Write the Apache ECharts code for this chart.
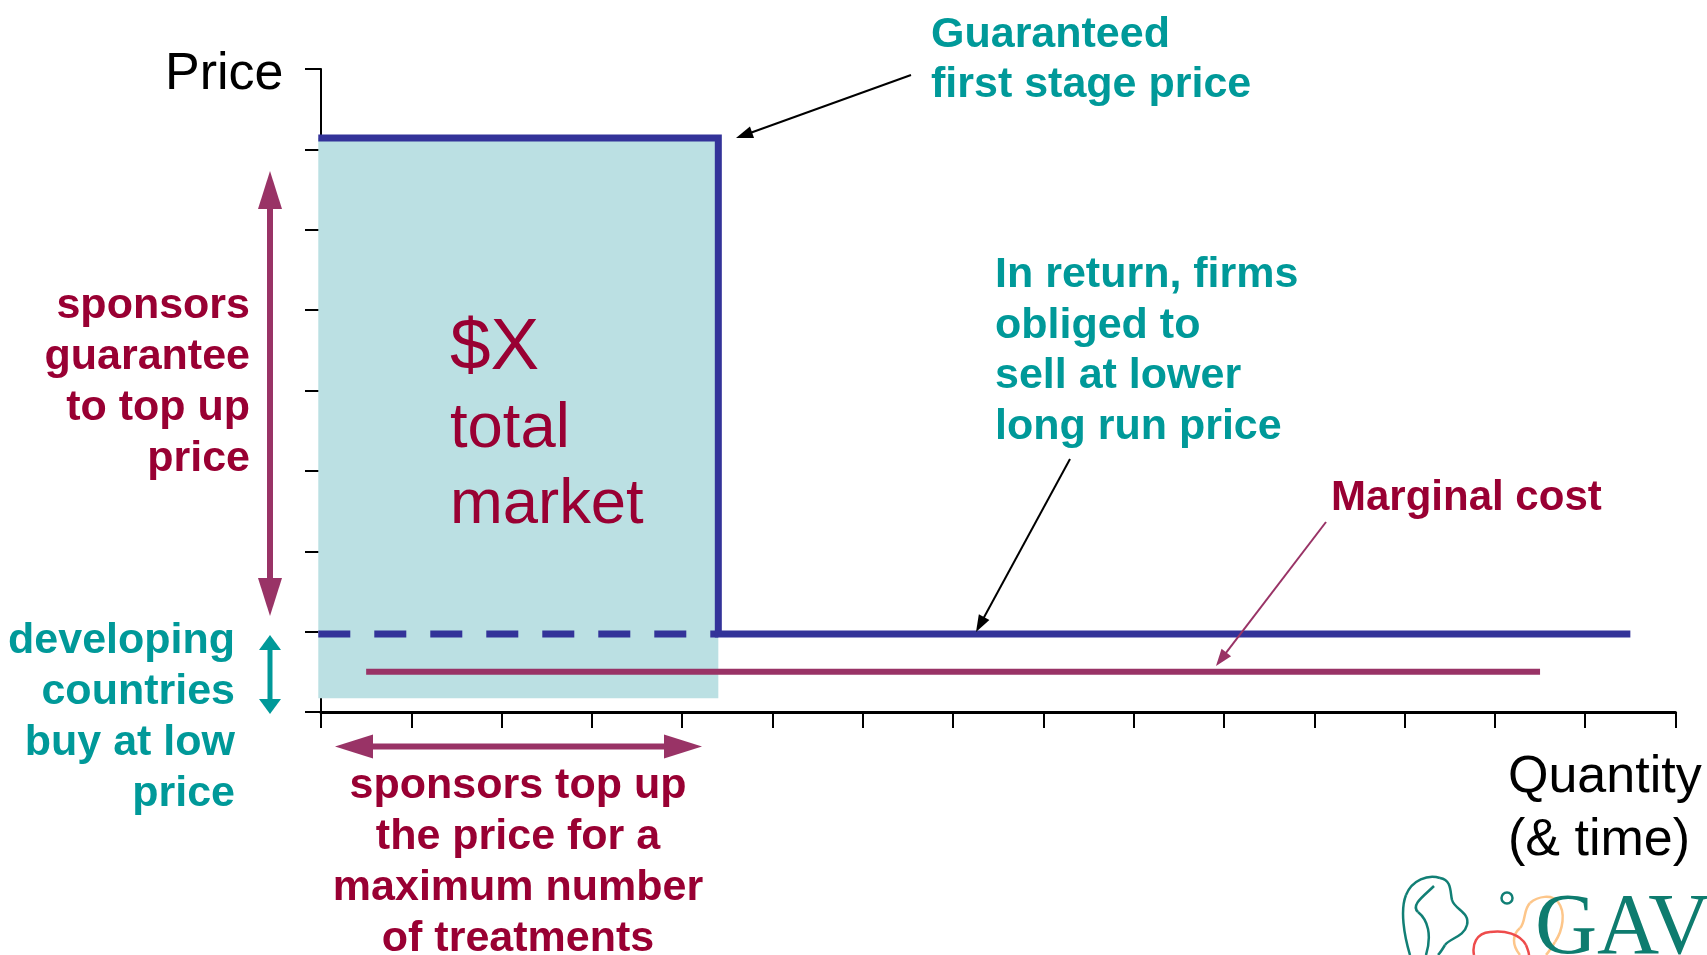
<!DOCTYPE html>
<html>
<head>
<meta charset="utf-8">
<script src="https://cdn.jsdelivr.net/npm/echarts@6/dist/echarts.min.js"></script>
<style>
html,body{margin:0;padding:0;background:#fff;}
#main{width:1707px;height:955px;}
</style>
</head>
<body>
<div id="main"></div>
<script>
// ---- Data (axis units: x = quantity ticks 0..15, y = price ticks 0..8) ----
const xTicks = [0, 15, 1];          // min, max, interval
const yTicks = [0, 8, 1];
const guaranteedPrice = 7.14;
const longRunPrice = 0.97;
const stageEnd = 4.4;
const longRunEnd = 14.5;
const marginalCost = 0.5;
const mcRange = [0.5, 13.5];
const shadedBox = [[-0.03, 0.17, 4.4, 7.14]];   // x0, y0, x1, y1
const firstStageLine = [[-0.03, guaranteedPrice], [stageEnd, guaranteedPrice], [stageEnd, longRunPrice], [longRunEnd, longRunPrice]];
const dashedLine = [[-0.03, longRunPrice], [stageEnd, longRunPrice]];
const mcLine = [[mcRange[0], marginalCost], [mcRange[1], marginalCost]];

const TEAL = '#009999', MAROON = '#990033', MAROON2 = '#993366', BLUE = '#333399', SHADE = '#BBE0E3';
const SANS = '"Liberation Sans", Arial, Helvetica, sans-serif';

function txt(text, x, baseline, F, L, color, weight, align) {
  return {
    type: 'text', x: x, y: baseline + 3 - L / 2 - 0.3465 * F, z: 100,
    style: { text: text, fill: color, fontSize: F, fontFamily: SANS, fontWeight: weight || 'normal',
      lineHeight: L, align: align || 'left', verticalAlign: 'top' }
  };
}
function arrowHead(tx, ty, fx, fy, len, hw, color) {
  const dx = tx - fx, dy = ty - fy, d = Math.hypot(dx, dy), ux = dx / d, uy = dy / d;
  const bx = tx - ux * len, by = ty - uy * len;
  return { type: 'polygon', z: 90, shape: { points: [[tx, ty], [bx - uy * hw, by + ux * hw], [bx + uy * hw, by - ux * hw]] }, style: { fill: color } };
}
function thinArrow(fx, fy, tx, ty, color, w) {
  const dx = tx - fx, dy = ty - fy, d = Math.hypot(dx, dy);
  const ex = tx - dx / d * 12, ey = ty - dy / d * 12;
  return [
    { type: 'line', z: 90, shape: { x1: fx, y1: fy, x2: ex, y2: ey }, style: { stroke: color, lineWidth: w } },
    arrowHead(tx, ty, fx, fy, 17, 6, color)
  ];
}
function doubleArrow(x1, y1, x2, y2, h, hw, s, color) {
  const dx = x2 - x1, dy = y2 - y1, d = Math.hypot(dx, dy), ux = dx / d, uy = dy / d;
  return [
    { type: 'line', z: 90, shape: { x1: x1 + ux * (h - 2), y1: y1 + uy * (h - 2), x2: x2 - ux * (h - 2), y2: y2 - uy * (h - 2) }, style: { stroke: color, lineWidth: s } },
    arrowHead(x1, y1, x2, y2, h, hw, color),
    arrowHead(x2, y2, x1, y1, h, hw, color)
  ];
}
// Build bezierCurve elements from a simple "M x y C ... " path string
function curves(path, color) {
  const n = path.replace(/[MC]/g, ' ').trim().split(/\s+/).map(Number);
  const out = [];
  let x = n[0], y = n[1];
  for (let i = 2; i + 5 < n.length; i += 6) {
    out.push({ type: 'bezierCurve', z: 80, shape: { x1: x, y1: y, cpx1: n[i], cpy1: n[i + 1], cpx2: n[i + 2], cpy2: n[i + 3], x2: n[i + 4], y2: n[i + 5] },
      style: { stroke: color, lineWidth: 2.5, fill: null } });
    x = n[i + 4]; y = n[i + 5];
  }
  return out;
}

const chart = echarts.init(document.getElementById('main'), null, { renderer: 'canvas' });

const graphics = [
  txt('Price', 165, 90, 52, 60, '#000'),
  txt('Guaranteed\nfirst stage price', 931, 47, 43, 50, TEAL, 'bold'),
  txt('In return, firms\nobliged to\nsell at lower\nlong run price', 995, 287, 43, 50.7, TEAL, 'bold'),
  txt('Marginal cost', 1331, 510, 42, 50, MAROON, 'bold'),
  txt('$X', 450, 371, 73, 80, MAROON),
  txt('total\nmarket', 450, 448, 63.4, 76, MAROON),
  txt('sponsors\nguarantee\nto top up\nprice', 250, 318, 43, 51, MAROON, 'bold', 'right'),
  txt('developing\ncountries\nbuy at low\nprice', 235, 653, 43, 51, TEAL, 'bold', 'right'),
  txt('sponsors top up\nthe price for a\nmaximum number\nof treatments', 518, 798, 43, 51, MAROON, 'bold', 'center'),
  txt('Quantity\n(& time)', 1508, 793, 52, 63, '#000'),
  ...thinArrow(911, 75, 736, 138, '#000', 2),
  ...thinArrow(1070, 459, 976, 632, '#000', 2),
  ...thinArrow(1326, 522, 1216, 666, MAROON2, 2),
  ...doubleArrow(270, 171, 270, 616, 38, 12, 6, MAROON2),
  ...doubleArrow(270, 635, 270, 714, 15, 11, 5, TEAL),
  ...doubleArrow(335, 746.5, 702, 746.5, 38, 12, 6, MAROON2),
  // GAVI logo (partial, bottom-right corner)
  ...curves('M1410 955 C1404 935 1400 910 1406 895 C1412 880 1428 874 1440 878 C1452 880 1450 892 1452 900 C1455 910 1470 912 1467 925 C1464 937 1450 938 1445 945 C1442 950 1440 953 1438 955', '#117F75'),
  ...curves('M1434 886 C1425 895 1410 905 1418 912 C1428 920 1432 935 1426 955', '#117F75'),
  { type: 'circle', z: 80, shape: { cx: 1507, cy: 898, r: 5.5 }, style: { stroke: '#117F75', lineWidth: 2.5, fill: null } },
  ...curves('M1520 955 C1512 945 1512 935 1520 928 C1526 922 1523 910 1530 903 C1538 896 1552 894 1558 902 C1566 912 1563 930 1555 942 C1550 950 1548 953 1546 955', '#FDC68A'),
  ...curves('M1474 955 C1472 945 1476 933 1490 932 C1505 930 1520 934 1526 945 C1528 950 1529 953 1529 955', '#EE4B4B'),
  { type: 'text', x: 1535, y: 960 - 0.3465 * 86 - 45, z: 85, style: { text: 'GAVI', fill: '#0E7C6F', fontSize: 86, fontFamily: '"Liberation Serif", "Times New Roman", serif', lineHeight: 90, align: 'left', verticalAlign: 'top' } }
];

chart.setOption({
  animation: false,
  backgroundColor: '#fff',
  grid: { left: 321, top: 69, width: 1354.5, height: 643, containLabel: false },
  xAxis: {
    type: 'value', min: xTicks[0], max: xTicks[1], interval: xTicks[2],
    axisLine: { show: true, onZero: false, lineStyle: { color: '#000', width: 3 } },
    axisTick: { show: true, inside: false, length: 16, lineStyle: { color: '#000', width: 2 } },
    axisLabel: { show: false }, splitLine: { show: false }
  },
  yAxis: {
    type: 'value', min: yTicks[0], max: yTicks[1], interval: yTicks[2],
    axisLine: { show: true, onZero: false, lineStyle: { color: '#000', width: 2 } },
    axisTick: { show: true, inside: false, length: 16, lineStyle: { color: '#000', width: 2 } },
    axisLabel: { show: false }, splitLine: { show: false }
  },
  series: [
    {
      type: 'custom', z: 1, clip: false, data: shadedBox,
      renderItem: function (params, api) {
        const p0 = api.coord([api.value(0), api.value(3)]);
        const p1 = api.coord([api.value(2), api.value(1)]);
        return { type: 'rect', shape: { x: p0[0], y: p0[1], width: p1[0] - p0[0], height: p1[1] - p0[1] }, style: { fill: SHADE } };
      }
    },
    {
      type: 'line', z: 5, data: dashedLine, symbol: 'none', clip: false,
      lineStyle: { color: BLUE, width: 7, type: [32, 24], cap: 'butt' }
    },
    {
      type: 'line', z: 6, data: firstStageLine, symbol: 'none', clip: false,
      lineStyle: { color: BLUE, width: 7, cap: 'butt', join: 'miter' }
    },
    {
      type: 'line', z: 5, data: mcLine, symbol: 'none', clip: false,
      lineStyle: { color: MAROON2, width: 6, cap: 'butt' }
    }
  ],
  graphic: graphics
});
</script>
</body>
</html>
